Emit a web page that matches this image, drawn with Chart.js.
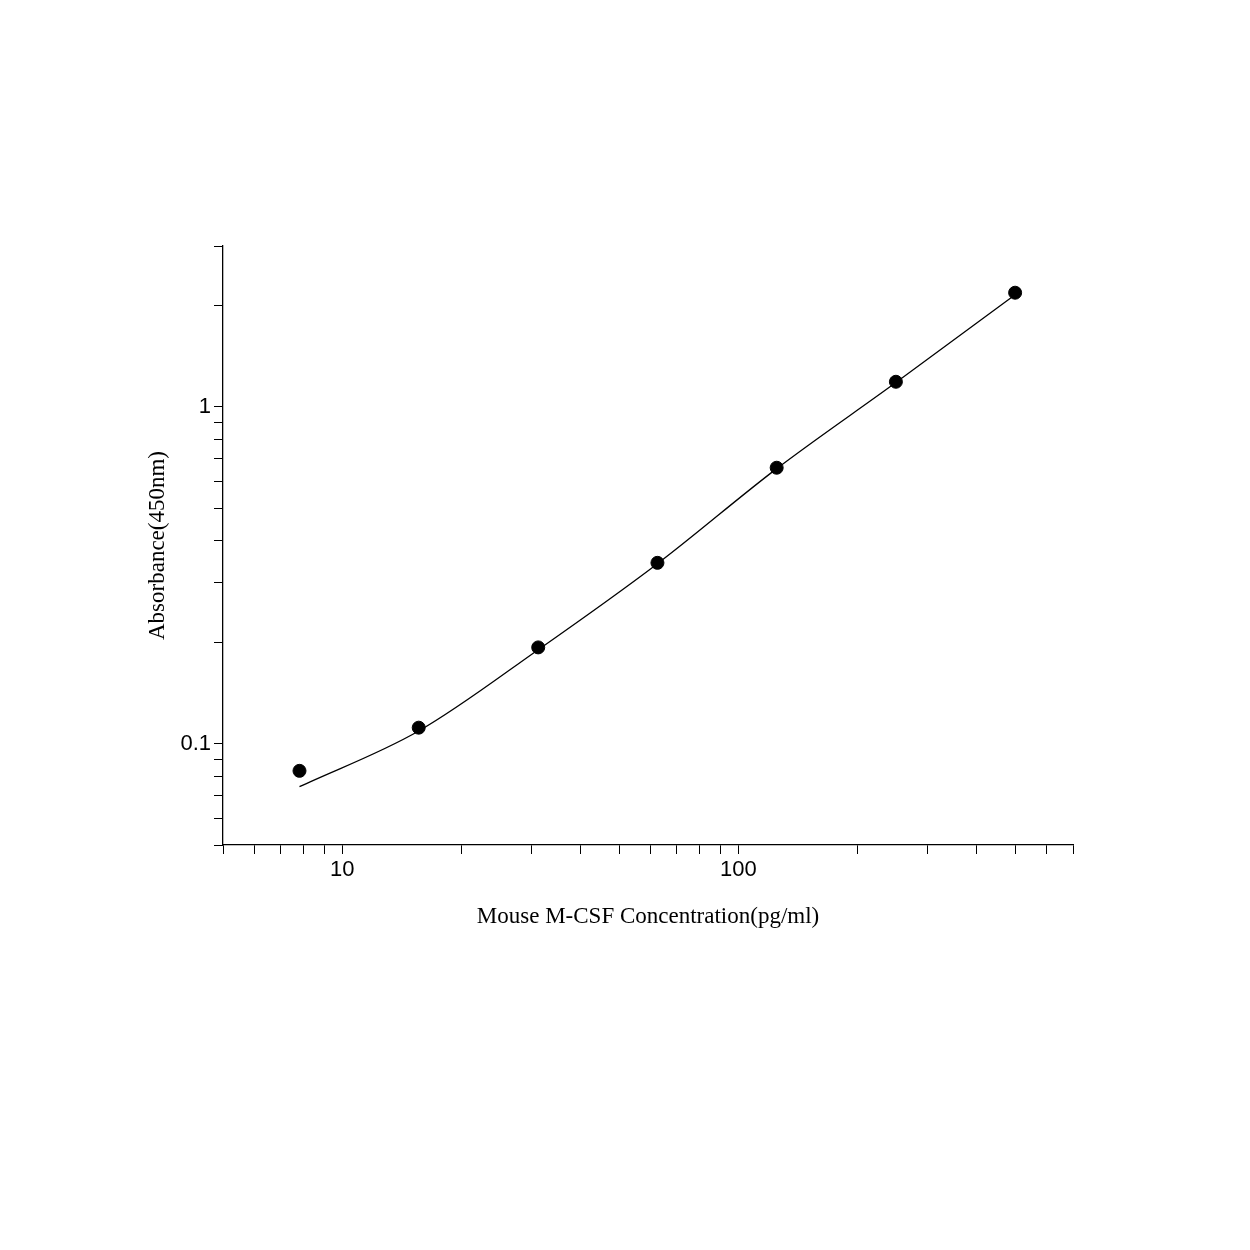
<!DOCTYPE html>
<html>
<head>
<meta charset="utf-8">
<script src="https://cdn.jsdelivr.net/npm/chart.js@4"></script>
<style>body{margin:0;background:#fff}</style>
</head>
<body>
<canvas id="c" width="1250" height="1250"></canvas>
<script>
// standard concentrations and measured absorbance
const conc = [7.8, 15.6, 31.25, 62.5, 125, 250, 500];
const absorb = [0.083, 0.1115, 0.193, 0.344, 0.659, 1.186, 2.18];
// fitted curve
const curveX = [7.8, 15.6, 31.25, 62.5, 125, 250, 500];
const curveY = [0.0745, 0.109, 0.19, 0.342, 0.655, 1.18, 2.15];
const xTicks = [5, 6, 7, 8, 9, 10, 20, 30, 40, 50, 60, 70, 80, 90, 100, 200, 300, 400, 500, 600, 700];
const yTicks = [0.05, 0.06, 0.07, 0.08, 0.09, 0.1, 0.2, 0.3, 0.4, 0.5, 0.6, 0.7, 0.8, 0.9, 1, 2, 3];
const xLabels = [10, 100];
const yLabels = [0.1, 1];

new Chart(document.getElementById('c'), {
    type: 'scatter',
    data: {
        datasets: [{
            data: curveX.map((x, i) => ({x: x, y: curveY[i]})),
            showLine: true,
            borderColor: '#000',
            borderWidth: 1.3,
            pointRadius: 0,
            cubicInterpolationMode: 'monotone'
        }, {
            data: conc.map((x, i) => ({x: x, y: absorb[i]})),
            backgroundColor: '#000',
            borderColor: '#000',
            pointRadius: 6.5
        }]
    },
    options: {
        responsive: false,
        animation: false,
        devicePixelRatio: 1,
        layout: {padding: {left: 140, top: 246, right: 177, bottom: 315}},
        plugins: {legend: {display: false}, tooltip: {enabled: false}},
        scales: {
            x: {
                type: 'logarithmic',
                min: 5, max: 700,
                afterBuildTicks: s => { s.ticks = xTicks.map(v => ({value: v})); },
                afterFit: s => { s.height = 90; },
                ticks: {
                    autoSkip: false, maxRotation: 0, color: '#000',
                    font: {family: 'Liberation Sans', size: 22},
                    callback: v => xLabels.includes(v) ? String(v) : ''
                },
                grid: {drawOnChartArea: false, color: '#000', tickLength: 9},
                border: {color: '#000', width: 1.3},
                title: {
                    display: true, text: 'Mouse M-CSF Concentration(pg/ml)', color: '#000',
                    font: {family: 'Liberation Serif', size: 23}
                }
            },
            y: {
                type: 'logarithmic',
                min: 0.05, max: 3,
                afterBuildTicks: s => { s.ticks = yTicks.map(v => ({value: v})); },
                afterFit: s => { s.width = 83; },
                ticks: {
                    autoSkip: false, color: '#000',
                    font: {family: 'Liberation Sans', size: 22},
                    callback: v => yLabels.includes(v) ? String(v) : ''
                },
                grid: {drawOnChartArea: false, color: '#000', tickLength: 9},
                border: {color: '#000', width: 1.3},
                title: {
                    display: true, text: 'Absorbance(450nm)', color: '#000',
                    font: {family: 'Liberation Serif', size: 23}
                }
            }
        }
    }
});
</script>
</body>
</html>
